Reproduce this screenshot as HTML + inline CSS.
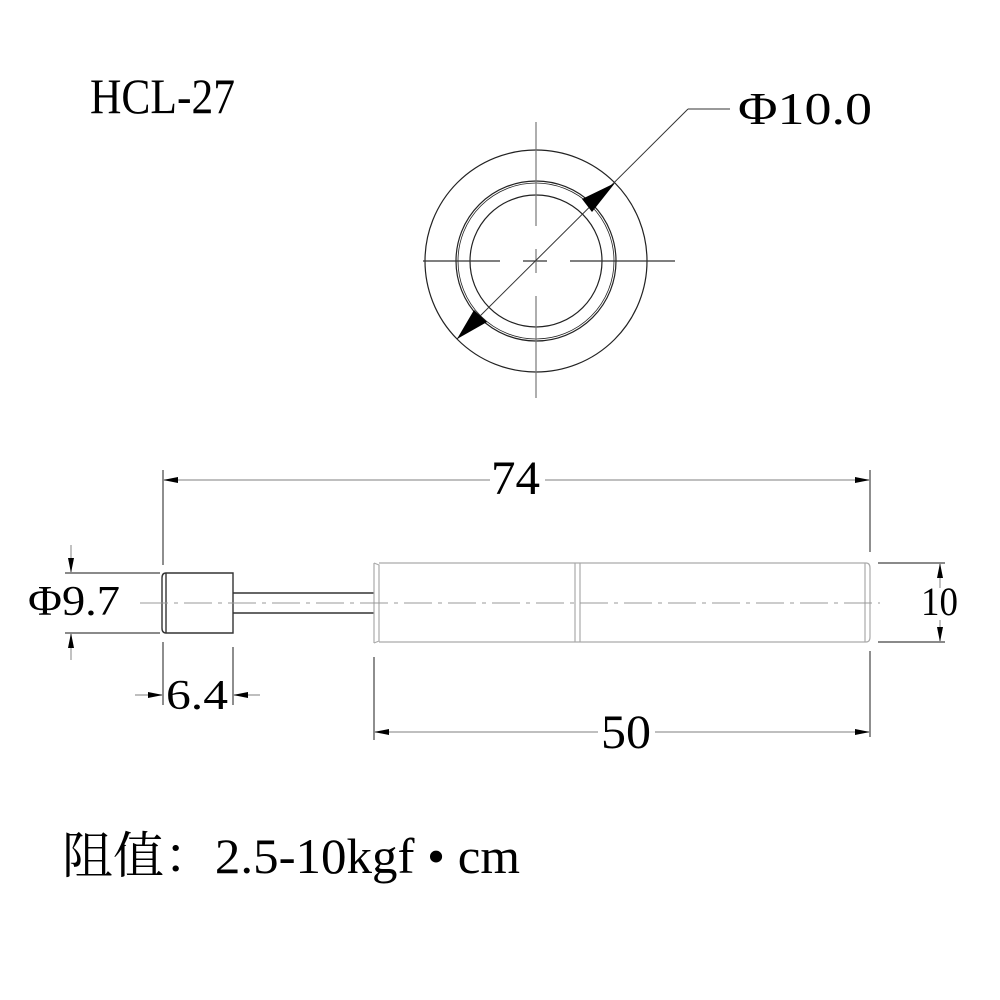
<!DOCTYPE html>
<html><head><meta charset="utf-8"><style>
html,body{margin:0;padding:0;background:#fff;width:1000px;height:1000px;overflow:hidden}
</style></head><body>
<svg width="1000" height="1000" viewBox="0 0 1000 1000" xmlns="http://www.w3.org/2000/svg">
<text x="90" y="113" style="font-family:'Liberation Serif',serif;font-size:50px" textLength="145" lengthAdjust="spacingAndGlyphs">HCL-27</text>
<g fill="none" stroke="#222" stroke-width="1.2">
<circle cx="536" cy="261" r="111"/>
<circle cx="536" cy="261" r="80"/>
<circle cx="536" cy="261" r="78" stroke-width="0.8"/>
<circle cx="536" cy="261" r="66"/>
</g>
<g stroke="#333" stroke-width="1.2">
<line x1="423" y1="261" x2="500" y2="261"/><line x1="523" y1="261" x2="547" y2="261"/><line x1="570" y1="261" x2="675" y2="261"/>
<line x1="536" y1="122" x2="536" y2="226" stroke="#777"/><line x1="536" y1="249" x2="536" y2="273" stroke="#777"/><line x1="536" y1="296" x2="536" y2="398" stroke="#777"/>
<line x1="457" y1="339" x2="688" y2="109" stroke-width="1"/>
<line x1="688" y1="109" x2="730" y2="109" stroke-width="1"/>
</g>
<polygon points="615,183 582,199 592,212" fill="#000"/>
<polygon points="457,339 474,310 487,322" fill="#000"/>
<text x="738" y="124" style="font-family:'Liberation Serif',serif;font-size:46px" textLength="134" lengthAdjust="spacingAndGlyphs">Φ10.0</text>
<g fill="none" stroke="#333" stroke-width="1.4">
<path d="M166,573 H233 V633 H166 Q162,633 162,628 V578 Q162,573 166,573 Z"/>
<line x1="166" y1="573" x2="166" y2="633"/>
<line x1="233" y1="593" x2="374" y2="593"/>
<line x1="233" y1="613" x2="374" y2="613"/>
</g>
<g fill="none" stroke="#aaa" stroke-width="1.2">
<path d="M374,563 V643 M374,563 L379,565 V641 L374,643"/>
<line x1="379" y1="563" x2="866" y2="563"/>
<line x1="379" y1="642" x2="866" y2="642"/>
<line x1="575" y1="563" x2="575" y2="642"/>
<line x1="580" y1="563" x2="580" y2="642"/>
<path d="M866,563 Q870,563 870,568 V637 Q870,642 866,642"/>
<line x1="865" y1="563" x2="865" y2="642"/>
</g>
<line x1="140" y1="603" x2="880" y2="603" stroke="#999" stroke-width="1" stroke-dasharray="28,6,4,6"/>
<g stroke="#444" stroke-width="1.2">
<line x1="163" y1="470" x2="163" y2="565"/>
<line x1="870" y1="470" x2="870" y2="552"/>
<line x1="163" y1="480" x2="490" y2="480" stroke="#999"/><line x1="545" y1="480" x2="870" y2="480" stroke="#999"/>
<line x1="163" y1="642" x2="163" y2="705"/>
<line x1="233" y1="647" x2="233" y2="705"/>
<line x1="135" y1="695" x2="163" y2="695" stroke="#999"/><line x1="233" y1="695" x2="260" y2="695" stroke="#999"/>
<line x1="374" y1="657" x2="374" y2="740"/>
<line x1="870" y1="651" x2="870" y2="737"/>
<line x1="374" y1="732" x2="598" y2="732" stroke="#999"/><line x1="655" y1="732" x2="870" y2="732" stroke="#999"/>
<line x1="878" y1="563" x2="945" y2="563"/>
<line x1="878" y1="642" x2="945" y2="642"/>
<line x1="940" y1="563" x2="940" y2="588" stroke="#999"/><line x1="940" y1="620" x2="940" y2="642" stroke="#999"/>
<line x1="65" y1="573" x2="160" y2="573"/>
<line x1="65" y1="633" x2="160" y2="633"/>
<line x1="71" y1="545" x2="71" y2="573" stroke="#999"/><line x1="71" y1="633" x2="71" y2="660" stroke="#999"/>
</g>
<g fill="#000">
<polygon points="163,480 178,477 178,483"/><polygon points="870,480 855,477 855,483"/>
<polygon points="163,695 148,692 148,698"/><polygon points="233,695 248,692 248,698"/>
<polygon points="374,732 389,729 389,735"/><polygon points="870,732 855,729 855,735"/>
<polygon points="940,563 937,578 943,578"/><polygon points="940,642 937,627 943,627"/>
<polygon points="71,573 68,558 74,558"/><polygon points="71,633 68,648 74,648"/>
</g>
<g style="font-family:'Liberation Serif',serif">
<text x="491" y="494" style="font-size:48px" textLength="49" lengthAdjust="spacingAndGlyphs">74</text>
<text x="601" y="748" style="font-size:48px" textLength="50" lengthAdjust="spacingAndGlyphs">50</text>
<text x="921" y="615" style="font-size:40px" textLength="37" lengthAdjust="spacingAndGlyphs">10</text>
<text x="166" y="709" style="font-size:42px" textLength="62" lengthAdjust="spacingAndGlyphs">6.4</text>
<text x="28" y="615" style="font-size:42px" textLength="92" lengthAdjust="spacingAndGlyphs">Φ9.7</text>
<text x="62" y="873" style="font-size:50px;font-family:'Liberation Serif','Noto Serif CJK SC',serif" textLength="458" lengthAdjust="spacingAndGlyphs">阻值：2.5-10kgf • cm</text>
</g>
</svg>
</body></html>
